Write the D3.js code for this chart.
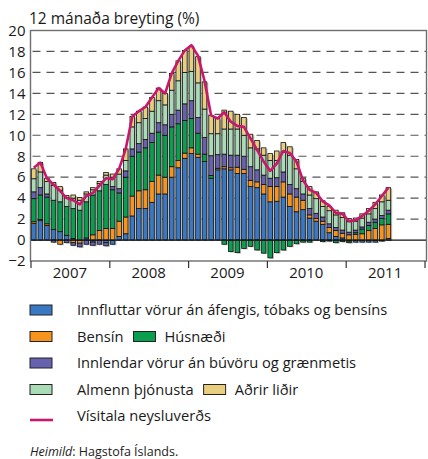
<!DOCTYPE html>
<html>
<head>
<meta charset="utf-8">
<script src="https://cdn.jsdelivr.net/npm/d3@7"></script>
<style>
  body { margin: 0; background: #fff; }
  svg { font-family: "Open Sans", Lato, sans-serif; }
</style>
</head>
<body>
<div id="chart"></div>
<script>
// gögn: 12 mánaða breyting, jan 2007 - júl 2011
const years = ["2007", "2008", "2009", "2010", "2011"];

const innflutt = [1.6, 1.85, 1.4, 1.0, 0.8, 0.45, 0.15, 0, 0.2, -0.2, 0, -0.25,
  -0.4, 0.35, 0.6, 2.3, 3.0, 3.0, 3.6, 4.4, 4.4, 6.0, 6.9, 7.8,
  8.25, 7.9, 7.5, 5.9, 6.7, 6.8, 6.7, 6.35, 6.35, 5.1, 5.0, 4.4,
  3.65, 3.7, 4.1, 3.2, 2.7, 2.9, 2.1, 1.8, 1.5, 0.7, 0.35, 0.2,
  -0.1, -0.2, -0.2, -0.2, -0.2, -0.1, 0.15];
const bensin = [0.15, 0.1, 0.15, 0, -0.4, 0, -0.25, -0.3, 0, 0.5, 0.9, 1.1,
  1.1, 1.45, 1.6, 1.9, 1.7, 1.8, 2.0, 1.8, 1.6, 1.0, 0.7, 0.5,
  0.55, 0.3, 0, 0, 0.15, 0.2, 0.2, 0.6, 0.4, 0.6, 0.55, 0.9,
  1.45, 1.4, 1.45, 1.2, 1.4, 0.9, 0.3, 0.25, 0.3, 0.5, 0.55, 0.45,
  0.5, 0.55, 0.6, 0.9, 1.1, 1.45, 1.35];
const husnaedi = [2.2, 2.35, 2.55, 2.8, 2.85, 2.75, 2.85, 2.85, 3.45, 3.8, 3.8, 4.2,
  3.7, 2.7, 3.8, 3.8, 3.7, 4.0, 3.7, 4.1, 4.0, 3.8, 3.5, 3.1,
  2.8, 2.0, 0.7, 0.25, 0, -0.4, -1.1, -1.2, -0.8, -0.6, -0.95, -1.25,
  -1.7, -1.2, -0.95, -0.6, -0.35, -0.2, -0.2, 0, -0.15, -0.1, -0.25, -0.15,
  -0.15, 0.15, 0.45, 0.5, 0.6, 0.6, 1.0];
const innlendar = [0.65, 0.7, 0.3, -0.2, 0, -0.25, -0.25, -0.35, -0.4, -0.3, -0.4, -0.3,
  0.3, 0.4, 0.6, 0.7, 0.8, 0.8, 0.9, 0.9, 1.0, 1.2, 1.3, 1.6,
  1.7, 1.5, 1.6, 1.9, 1.3, 1.2, 1.2, 1.15, 1.25, 1.3, 1.15, 0.9,
  0.8, 0.85, 0.95, 0.9, 0.8, 0.6, 0.6, 0.5, 0.4, 0.35, 0.3, 0.3,
  0.25, 0.25, 0.2, 0.3, 0.3, 0.3, 0.35];
const thjonusta = [1.25, 1.5, 1.2, 1.4, 1.1, 0.85, 1.0, 0.95, 0.75, 0.5, 0.7, 0.9,
  0.9, 1.4, 1.0, 2.1, 2.0, 2.0, 2.1, 2.1, 1.9, 2.3, 2.8, 3.0,
  2.8, 3.3, 2.7, 2.1, 2.0, 2.4, 2.5, 2.5, 2.0, 1.8, 2.0, 1.9,
  1.7, 1.65, 1.9, 2.8, 1.9, 1.2, 1.3, 1.4, 1.0, 1.25, 1.2, 1.2,
  1.0, 0.85, 0.85, 0.8, 1.0, 1.3, 0.95];
const adrir = [0.95, 0.9, 0.3, 0.3, 0.35, 0.2, 0.3, 0.25, 0.2, 0.2, 0.2, 0.25,
  0.3, 0.5, 1.1, 1.0, 1.1, 1.1, 1.3, 1.2, 1.1, 1.6, 1.9, 2.1,
  2.4, 2.5, 2.6, 1.75, 1.45, 1.8, 1.7, 1.4, 1.7, 1.3, 0.8, 0.7,
  0.65, 0.9, 0.9, 0.8, 0.9, 0.3, 0.8, 0.65, 0.55, 0.4, 0.45, 0.45,
  0.3, 0.3, 0.4, 0.5, 0.6, 0.65, 1.2];
const visitala = [6.9, 7.4, 5.9, 5.3, 4.7, 4.0, 3.8, 3.4, 4.2, 4.5, 5.2, 5.9,
  5.8, 6.8, 8.7, 11.8, 12.3, 12.7, 13.6, 14.5, 14.0, 15.9, 17.1, 18.1,
  18.6, 17.6, 15.2, 11.9, 11.6, 12.2, 11.3, 10.9, 10.8, 9.7, 8.6, 7.5,
  6.6, 7.3, 8.5, 8.3, 7.5, 5.7, 4.8, 4.5, 3.7, 3.3, 2.6, 2.5,
  1.8, 1.9, 2.3, 2.8, 3.4, 4.2, 5.0];

const keys = ["innflutt", "bensin", "husnaedi", "innlendar", "thjonusta", "adrir"];
const labels = ["Innfluttar vörur án áfengis, tóbaks og bensíns", "Bensín", "Húsnæði",
  "Innlendar vörur án búvöru og grænmetis", "Almenn þjónusta", "Aðrir liðir"];
const colors = ["#3a78c4", "#f7941d", "#0a9f4e", "#6762ad", "#aadbb7", "#e8cf7f"];
const lineColor = "#c9186b";
const yTicks = [-2, 0, 2, 4, 6, 8, 10, 12, 14, 16, 18, 20];

const width = 428, height = 459;
const plotLeft = 30.5, plotRight = 424.5, plotTop = 30.5, plotBottom = 261;
const fontSize = "14.7px";

const svg = d3.select("#chart").append("svg")
  .attr("width", width)
  .attr("height", height);

const rows = visitala.map((v, i) => ({
  i: i, innflutt: innflutt[i], bensin: bensin[i], husnaedi: husnaedi[i],
  innlendar: innlendar[i], thjonusta: thjonusta[i], adrir: adrir[i]
}));

const x = d3.scaleBand()
  .domain(d3.range(years.length * 12))
  .range([plotLeft, plotRight])
  .paddingInner(0.3)
  .paddingOuter(0.15);

const y = d3.scaleLinear().domain([-2, 20]).range([plotBottom, plotTop]);

// titill
svg.append("text")
  .attr("x", 29)
  .attr("y", 24)
  .style("font-size", "15.5px")
  .style("fill", "#1a1a1a")
  .text("12 mánaða breyting (%)");

// strikaðar línur
svg.append("g").selectAll("line")
  .data(yTicks.filter(d => d > 0 && d < 20))
  .enter().append("line")
  .attr("x1", plotLeft + 2).attr("x2", plotRight + 2)
  .attr("y1", d => y(d)).attr("y2", d => y(d))
  .style("stroke", "#555")
  .style("stroke-width", 1.2)
  .style("stroke-dasharray", "8,6");

// y-ás
const yAxis = svg.append("g")
  .attr("transform", "translate(" + plotLeft + ",0)")
  .call(d3.axisLeft(y).tickValues(yTicks).tickSize(0).tickPadding(5));
yAxis.select(".domain").remove();
yAxis.selectAll("text")
  .style("font-family", "'Open Sans', sans-serif")
  .style("font-size", "15px")
  .style("fill", "#1a1a1a");

// súlur
const stack = d3.stack().keys(keys).offset(d3.stackOffsetDiverging)(rows);

const shadow = svg.append("g");
shadow.selectAll("rect")
  .data(rows)
  .enter().append("rect")
  .attr("x", d => x(d.i) + 1.5)
  .attr("width", x.bandwidth())
  .attr("y", d => y(d3.max(stack, s => s[d.i][1])) + 1)
  .attr("height", d => y(d3.min(stack, s => s[d.i][0])) - y(d3.max(stack, s => s[d.i][1])))
  .style("fill", "#b9b9b9");

svg.append("g").selectAll("g")
  .data(stack)
  .enter().append("g")
  .style("fill", (d, k) => colors[k])
  .selectAll("rect")
  .data(d => d.filter(p => p[1] - p[0] !== 0))
  .enter().append("rect")
  .attr("x", d => x(d.data.i))
  .attr("width", x.bandwidth())
  .attr("y", d => y(d[1]))
  .attr("height", d => y(d[0]) - y(d[1]))
  .style("stroke", "#111")
  .style("stroke-width", 0.8);

// núll lína
svg.append("line")
  .attr("x1", plotLeft).attr("x2", plotRight + 2)
  .attr("y1", y(0)).attr("y2", y(0))
  .style("stroke", "#111")
  .style("stroke-width", 1.2);

// vísitala neysluverðs
svg.append("path")
  .datum(visitala)
  .attr("d", d3.line().x((d, i) => x(i) + x.bandwidth() / 2).y(d => y(d)))
  .style("fill", "none")
  .style("stroke", lineColor)
  .style("stroke-width", 2.6)
  .style("stroke-linejoin", "round");

// rammi
svg.append("rect")
  .attr("x", plotLeft).attr("y", plotTop)
  .attr("width", plotRight + 2 - plotLeft).attr("height", plotBottom - plotTop)
  .style("fill", "none")
  .style("stroke", "#6e6e6e")
  .style("stroke-width", 1.4);

// x-ás með árum
const xYear = d3.scaleLinear().domain([0, years.length]).range([plotLeft, plotRight]);
const xAxis = svg.append("g")
  .attr("transform", "translate(0," + plotBottom + ")")
  .call(d3.axisBottom(xYear).tickValues(d3.range(years.length + 1)).tickSize(7).tickFormat(""));
xAxis.select(".domain").remove();
xAxis.selectAll("line").style("stroke", "#333").style("stroke-width", 1.2);

svg.append("g").selectAll("text")
  .data(years)
  .enter().append("text")
  .attr("x", (d, i) => xYear(i + 0.5))
  .attr("y", 278)
  .attr("text-anchor", "middle")
  .style("font-size", "15px")
  .style("fill", "#1a1a1a")
  .text(d => d);

// skýringar
const legendRows = [[0], [1, 2], [3], [4, 5], [-1]];
const legend = svg.append("g").attr("transform", "translate(30, 305)");

legendRows.forEach((row, r) => {
  const g = legend.append("g").attr("transform", "translate(0," + (r * 26.5) + ")");
  let xpos = 0;
  row.forEach((k, j) => {
    if (k < 0) {
      g.append("line")
        .attr("x1", 0).attr("x2", 23).attr("y1", 9).attr("y2", 9)
        .style("stroke", lineColor).style("stroke-width", 2.6);
    } else {
      g.append("rect")
        .attr("x", xpos).attr("y", 0)
        .attr("width", 22).attr("height", 10)
        .style("fill", colors[k])
        .style("stroke", "#222").style("stroke-width", 1);
    }
    const tx = j === 0 ? 47 : xpos + 31;
    const t = g.append("text")
      .attr("x", tx)
      .attr("y", 10)
      .style("font-size", fontSize)
      .style("fill", "#1a1a1a")
      .text(k < 0 ? "Vísitala neysluverðs" : labels[k]);
    xpos = tx + t.node().getComputedTextLength() + 10;
  });
});

// heimild
const src = svg.append("text")
  .attr("x", 30)
  .attr("y", 456)
  .style("font-size", "12.5px")
  .style("fill", "#222");
src.append("tspan").style("font-style", "italic").text("Heimild");
src.append("tspan").text(": Hagstofa Íslands.");
</script>
</body>
</html>
